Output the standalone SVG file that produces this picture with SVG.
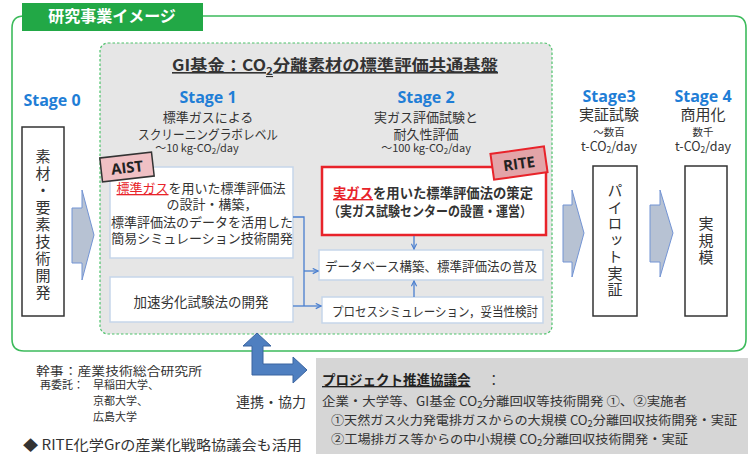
<svg xmlns="http://www.w3.org/2000/svg" width="748" height="454" viewBox="0 0 748 454">
<defs>
<style>
.t{font-family:"Noto Sans CJK JP","Noto Sans",sans-serif;fill:#333}
.b{font-weight:bold}
.stg{font-family:"Open Sans","Noto Sans CJK JP",sans-serif;font-weight:bold;fill:#1f7ed6;font-size:16px}
.box{fill:#fff;stroke:#c6d6ea;stroke-width:1.5}
.sbox{fill:#fff;stroke:#333;stroke-width:1.5}
.sarr{fill:#b7c2d3;stroke:#7394d4;stroke-width:1}
.con{fill:none;stroke:#4a7fd0;stroke-width:1.3}
.red{fill:#e8232a}
.vt{writing-mode:vertical-rl;text-anchor:middle}
</style>
<marker id="ah" viewBox="0 0 8 8" refX="7" refY="4" markerWidth="7" markerHeight="7" orient="auto" markerUnits="userSpaceOnUse">
<path d="M1,1 L7,4 L1,7" fill="none" stroke="#4a7fd0" stroke-width="1.3"/>
</marker>
</defs>
<rect width="748" height="454" fill="#fff"/>

<!-- outer frame -->
<g id="frame">
<path d="M24,16 L734,16 Q746,16 746,28 L746,339 Q746,351 734,351 L24,351 Q12,351 12,339 L12,28 Q12,16 24,16 Z" fill="none" stroke="#3dbb5c" stroke-width="1.6"/>
<rect x="22" y="3" width="181" height="28" fill="#22a846"/>
<text x="112" y="22" class="t b" font-size="16" text-anchor="middle" style="fill:#fff">研究事業イメージ</text>
</g>

<!-- GI fund area -->
<g id="gi">
<rect x="100" y="43" width="452" height="291" rx="8" fill="#e6e6e6" stroke="#4cc26a" stroke-width="1.2" stroke-dasharray="2.5 2"/>
<text x="335" y="71" class="t b" font-size="16" text-anchor="middle" text-decoration="underline" textLength="326" lengthAdjust="spacingAndGlyphs">GI基金：CO<tspan font-size="11" dy="4">2</tspan><tspan dy="-4">分離素材の標準評価共通基盤</tspan></text>
</g>

<!-- stage headings -->
<g id="stage0-head"><text x="52" y="106" class="stg" text-anchor="middle">Stage 0</text></g>
<g id="stage1-head">
<text x="208" y="103" class="stg" text-anchor="middle">Stage 1</text>
<text x="208" y="122" class="t" font-size="13" text-anchor="middle">標準ガスによる</text>
<text x="208" y="139" class="t" font-size="13" text-anchor="middle" textLength="140" lengthAdjust="spacingAndGlyphs">スクリーニングラボレベル</text>
<text x="197" y="152" class="t" font-size="11" text-anchor="middle">～10 kg-CO<tspan font-size="8" dy="2">2</tspan><tspan dy="-2">/day</tspan></text>
</g>
<g id="stage2-head">
<text x="426" y="103" class="stg" text-anchor="middle">Stage 2</text>
<text x="426" y="122" class="t" font-size="13" text-anchor="middle">実ガス評価試験と</text>
<text x="426" y="139" class="t" font-size="13" text-anchor="middle">耐久性評価</text>
<text x="426" y="152" class="t" font-size="11" text-anchor="middle">～100 kg-CO<tspan font-size="8" dy="2">2</tspan><tspan dy="-2">/day</tspan></text>
</g>
<g id="stage3-head">
<text x="609" y="102" class="stg" text-anchor="middle">Stage3</text>
<text x="609" y="120" class="t" font-size="15" text-anchor="middle">実証試験</text>
<text x="609" y="136" class="t" font-size="10.5" text-anchor="middle">～数百</text>
<text x="609" y="151" class="t" font-size="12.5" text-anchor="middle">t-CO<tspan font-size="8.5" dy="2">2</tspan><tspan dy="-2">/day</tspan></text>
</g>
<g id="stage4-head">
<text x="703" y="102" class="stg" text-anchor="middle">Stage 4</text>
<text x="703" y="120" class="t" font-size="15" text-anchor="middle">商用化</text>
<text x="703" y="136" class="t" font-size="10.5" text-anchor="middle">数千</text>
<text x="703" y="151" class="t" font-size="12.5" text-anchor="middle">t-CO<tspan font-size="8.5" dy="2">2</tspan><tspan dy="-2">/day</tspan></text>
</g>

<!-- stage boxes -->
<g id="stage0-box">
<rect x="22" y="127" width="42" height="189" class="sbox"/>
<text x="43" y="225" class="t vt" font-size="15" letter-spacing="2">素材・要素技術開発</text>
</g>
<g id="pilot-box">
<rect x="593" y="166" width="44" height="150" class="sbox"/>
<text x="615" y="241" class="t vt" font-size="15" letter-spacing="1.5">パイロット実証</text>
</g>
<g id="full-box">
<rect x="685" y="166" width="42" height="150" class="sbox"/>
<text x="706" y="241" class="t vt" font-size="15" letter-spacing="2">実規模</text>
</g>

<!-- stage arrows -->
<g id="stage-arrows">
<polygon class="sarr" points="72,208 82,208 82,190 94,235 82,280 82,263 72,263"/>
<polygon class="sarr" points="563,205 572,205 572,190 584,233 572,277 572,262 563,262"/>
<polygon class="sarr" points="650,205 660,205 660,190 673,233 660,277 660,262 650,262"/>
</g>

<!-- AIST box -->
<g id="aist-box">
<rect x="110" y="167" width="183" height="91" class="box"/>
<text x="201" y="193" class="t" font-size="13" text-anchor="middle"><tspan class="red" text-decoration="underline">標準ガス</tspan>を用いた標準評価法</text>
<text x="212" y="209" class="t" font-size="13" text-anchor="middle">の設計・構築，</text>
<text x="202" y="227" class="t" font-size="13" text-anchor="middle">標準評価法のデータを活用した</text>
<text x="202" y="243" class="t" font-size="13" text-anchor="middle">簡易シミュレーション技術開発</text>
</g>
<g id="aist-tag" transform="rotate(-6.5 127 167)">
<rect x="101" y="155" width="52" height="24" fill="#f0c0c4" stroke="#333" stroke-width="1.5"/>
<text x="127" y="173" class="t b" font-size="15" text-anchor="middle" style="fill:#222;font-family:'Open Sans','Noto Sans',sans-serif">AIST</text>
</g>

<g id="accel-box">
<rect x="110" y="277" width="183" height="45" class="box"/>
<text x="201" y="307" class="t" font-size="13.5" text-anchor="middle">加速劣化試験法の開発</text>
</g>

<!-- RITE box -->
<g id="rite-box">
<rect x="322" y="167" width="224" height="68" fill="#fff" stroke="#e8232a" stroke-width="2.5"/>
<text x="433" y="198" class="t b" font-size="13.5" text-anchor="middle" textLength="200" lengthAdjust="spacingAndGlyphs"><tspan class="red" text-decoration="underline">実ガス</tspan>を用いた標準評価法の策定</text>
<text x="430" y="216" class="t b" font-size="13.5" text-anchor="middle" textLength="204" lengthAdjust="spacingAndGlyphs">（実ガス試験センターの設置・運営）</text>
</g>
<g id="rite-tag" transform="rotate(-8 519 163)">
<rect x="492" y="150" width="54" height="26" fill="#e3a4a8" stroke="#e8232a" stroke-width="2"/>
<text x="519" y="169" class="t b" font-size="15" text-anchor="middle" style="fill:#222;font-family:'Open Sans','Noto Sans',sans-serif">RITE</text>
</g>

<g id="db-box">
<rect x="319" y="250" width="224" height="30" class="box"/>
<text x="431" y="271" class="t" font-size="13" text-anchor="middle" textLength="212" lengthAdjust="spacingAndGlyphs">データベース構築、標準評価法の普及</text>
</g>
<g id="proc-box">
<rect x="322" y="297" width="221" height="26" class="box"/>
<text x="435" y="316" class="t" font-size="13" text-anchor="middle" textLength="206" lengthAdjust="spacingAndGlyphs">プロセスシミュレーション，妥当性検討</text>
</g>

<!-- connectors -->
<g id="connectors">
<path class="con" d="M293,217 L304,217 L304,306"/>
<path class="con" d="M304,271 L318,271" marker-end="url(#ah)"/>
<path class="con" d="M293,306 L321,306" marker-end="url(#ah)"/>
<path class="con" d="M414,236 L414,249" marker-end="url(#ah)"/>
<path class="con" d="M414,297 L414,281" marker-end="url(#ah)"/>
<path d="M257,333 L271,346 L263,346 L263,364 L293,364 L293,357 L307,370 L293,383 L293,375 L252,375 L252,346 L243,346 Z" fill="#4f7fc0" stroke="#3b64a0" stroke-width="1"/>
</g>

<!-- bottom left -->
<g id="members">
<text x="36" y="376" class="t" font-size="12" textLength="166" lengthAdjust="spacingAndGlyphs">幹事：産業技術総合研究所</text>
<text x="40" y="389" class="t" font-size="11">再委託：</text>
<text x="93" y="389" class="t" font-size="11">早稲田大学、</text>
<text x="93" y="404.5" class="t" font-size="11">京都大学、</text>
<text x="93" y="420.5" class="t" font-size="11">広島大学</text>
<text x="23" y="450" class="t" font-size="14" textLength="279" lengthAdjust="spacingAndGlyphs">◆ RITE化学Grの産業化戦略協議会も活用</text>
</g>
<g id="cooperation">
<text x="271" y="407" class="t" font-size="14" text-anchor="middle">連携・協力</text>
</g>

<!-- bottom right -->
<g id="council">
<rect x="316" y="358" width="432" height="96" fill="#d6d6d6"/>
<text x="322" y="385" class="t b" font-size="13.5" text-decoration="underline" style="fill:#222">プロジェクト推進協議会 </text>
<text x="487" y="385" class="t" font-size="13.5">：</text>
<text x="322" y="406" class="t" font-size="12.5" textLength="365" lengthAdjust="spacingAndGlyphs">企業・大学等、GI基金  CO<tspan font-size="9" dy="2">2</tspan><tspan dy="-2">分離回収等技術開発 ①、②実施者</tspan></text>
<text x="331" y="425" class="t" font-size="12.5" textLength="406" lengthAdjust="spacingAndGlyphs">①天然ガス火力発電排ガスからの大規模 CO<tspan font-size="9" dy="2">2</tspan><tspan dy="-2">分離回収技術開発・実証</tspan></text>
<text x="331" y="444" class="t" font-size="12.5" textLength="357" lengthAdjust="spacingAndGlyphs">②工場排ガス等からの中小規模 CO<tspan font-size="9" dy="2">2</tspan><tspan dy="-2">分離回収技術開発・実証</tspan></text>
</g>
</svg>
